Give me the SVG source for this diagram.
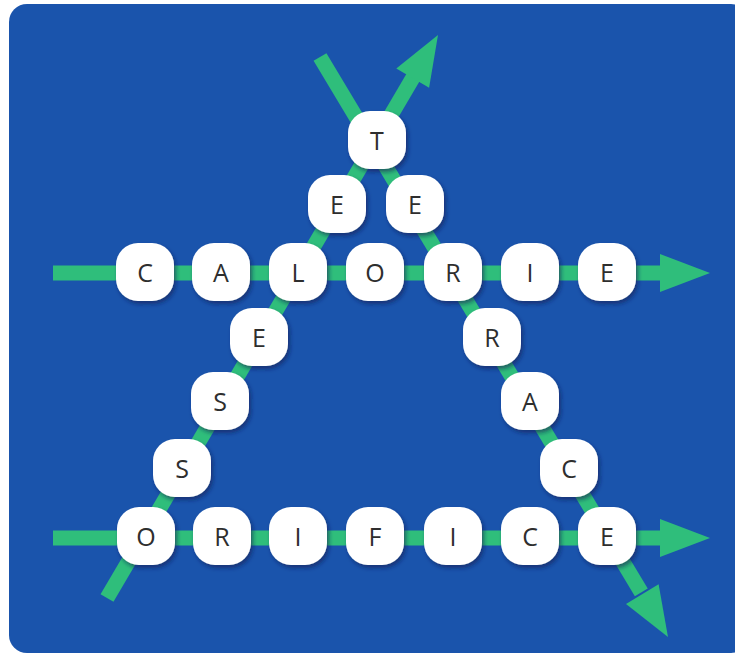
<svg xmlns="http://www.w3.org/2000/svg" width="735" height="659" viewBox="0 0 735 659">
<defs>
<style>
.ln{stroke:#2fbe7b;stroke-width:15;fill:none;stroke-linecap:butt}
.hd{fill:#2fbe7b}
.tile rect{fill:#ffffff;filter:url(#sh)}
.tile text{font-family:"Open Sans","Liberation Sans",sans-serif;font-size:25px;fill:#2e2e2e;text-anchor:middle;dominant-baseline:central}
</style>
<filter id="sh" x="-20%" y="-20%" width="150%" height="150%">
<feDropShadow dx="2" dy="3" stdDeviation="2" flood-color="#0a2454" flood-opacity="0.6"/>
</filter>
</defs>
<rect x="0" y="0" width="735" height="659" fill="#ffffff"/>
<rect x="9" y="4" width="740" height="649" rx="18" fill="#1a54ac"/>
<g id="connectors">
<line class="ln" x1="53" y1="273" x2="662" y2="273"/>
<polygon class="hd" points="660,254 710,273 660,292"/>
<line class="ln" x1="53" y1="538" x2="662" y2="538"/>
<polygon class="hd" points="660,519 710,538 660,557"/>
<line class="ln" x1="107" y1="598" x2="413.7" y2="76.4"/>
<polygon class="hd" points="429.1,87.7 438,35 396.3,68.5"/>
<line class="ln" x1="320" y1="57" x2="641.3" y2="592.4"/>
<polygon class="hd" points="658.6,584.3 668,637 626,603.9"/>
</g>
<g id="n-top-C" class="tile" transform="translate(145,272)"><rect x="-29" y="-29" width="58" height="58" rx="22"/><text>C</text></g>
<g id="n-top-A" class="tile" transform="translate(221,272)"><rect x="-29" y="-29" width="58" height="58" rx="22"/><text>A</text></g>
<g id="n-top-L" class="tile" transform="translate(298,272)"><rect x="-29" y="-29" width="58" height="58" rx="22"/><text>L</text></g>
<g id="n-top-O" class="tile" transform="translate(375,272)"><rect x="-29" y="-29" width="58" height="58" rx="22"/><text>O</text></g>
<g id="n-top-R" class="tile" transform="translate(453,272)"><rect x="-29" y="-29" width="58" height="58" rx="22"/><text>R</text></g>
<g id="n-top-I" class="tile" transform="translate(530,272)"><rect x="-29" y="-29" width="58" height="58" rx="22"/><text>I</text></g>
<g id="n-top-E" class="tile" transform="translate(607,272)"><rect x="-29" y="-29" width="58" height="58" rx="22"/><text>E</text></g>
<g id="n-bot-O" class="tile" transform="translate(146,536)"><rect x="-29" y="-29" width="58" height="58" rx="22"/><text>O</text></g>
<g id="n-bot-R" class="tile" transform="translate(222,536)"><rect x="-29" y="-29" width="58" height="58" rx="22"/><text>R</text></g>
<g id="n-bot-I1" class="tile" transform="translate(298,536)"><rect x="-29" y="-29" width="58" height="58" rx="22"/><text>I</text></g>
<g id="n-bot-F" class="tile" transform="translate(375,536)"><rect x="-29" y="-29" width="58" height="58" rx="22"/><text>F</text></g>
<g id="n-bot-I2" class="tile" transform="translate(453,536)"><rect x="-29" y="-29" width="58" height="58" rx="22"/><text>I</text></g>
<g id="n-bot-C" class="tile" transform="translate(530,536)"><rect x="-29" y="-29" width="58" height="58" rx="22"/><text>C</text></g>
<g id="n-bot-E" class="tile" transform="translate(607,536)"><rect x="-29" y="-29" width="58" height="58" rx="22"/><text>E</text></g>
<g id="n-left-S1" class="tile" transform="translate(182,468)"><rect x="-29" y="-29" width="58" height="58" rx="22"/><text>S</text></g>
<g id="n-left-S2" class="tile" transform="translate(220,401)"><rect x="-29" y="-29" width="58" height="58" rx="22"/><text>S</text></g>
<g id="n-left-E1" class="tile" transform="translate(259,337)"><rect x="-29" y="-29" width="58" height="58" rx="22"/><text>E</text></g>
<g id="n-left-E2" class="tile" transform="translate(337,204)"><rect x="-29" y="-29" width="58" height="58" rx="22"/><text>E</text></g>
<g id="n-T" class="tile" transform="translate(377,140)"><rect x="-29" y="-29" width="58" height="58" rx="22"/><text>T</text></g>
<g id="n-right-E" class="tile" transform="translate(415,204)"><rect x="-29" y="-29" width="58" height="58" rx="22"/><text>E</text></g>
<g id="n-right-R" class="tile" transform="translate(492,337)"><rect x="-29" y="-29" width="58" height="58" rx="22"/><text>R</text></g>
<g id="n-right-A" class="tile" transform="translate(530,401)"><rect x="-29" y="-29" width="58" height="58" rx="22"/><text>A</text></g>
<g id="n-right-C" class="tile" transform="translate(569,468)"><rect x="-29" y="-29" width="58" height="58" rx="22"/><text>C</text></g>
</svg>
